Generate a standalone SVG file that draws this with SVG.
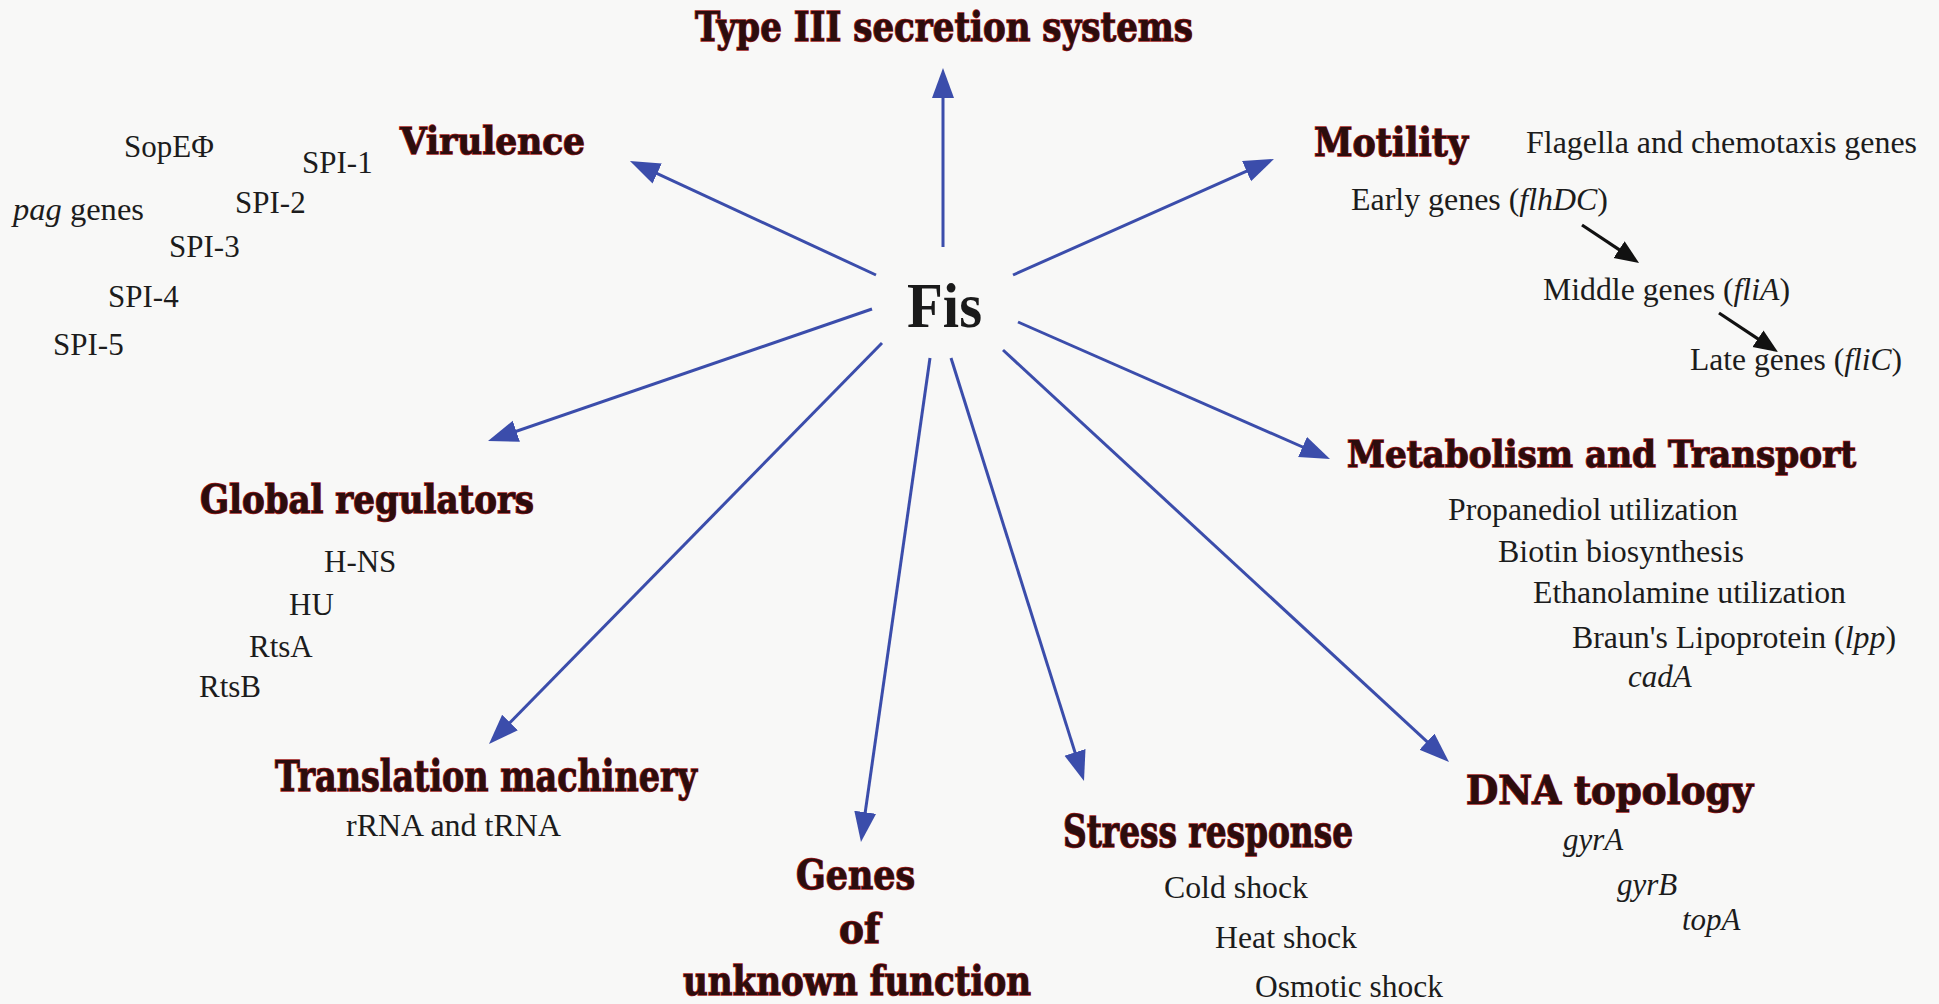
<svg xmlns="http://www.w3.org/2000/svg" width="1939" height="1004" viewBox="0 0 1939 1004">
<style>
.bg{fill:#f8f8f7}
.t{font-family:"DejaVu Serif","Liberation Serif",serif;font-weight:bold;fill:#2b0d0d;stroke:#a51c1c;stroke-width:1.5;paint-order:stroke}
.s{font-family:"Liberation Serif","Times New Roman",serif;font-size:31px;fill:#1c1c1c}
.i{font-style:italic}
.fis{font-family:"Liberation Serif","Times New Roman",serif;font-weight:bold;font-size:63px;fill:#1a1a1a}
.c line{stroke:#3b4dab;stroke-width:3;fill:none}
.c line.k{stroke:#111;stroke-width:3.2}
</style>
<defs>
<marker id="ab" markerUnits="userSpaceOnUse" markerWidth="32" markerHeight="24" refX="10" refY="11" orient="auto">
<path d="M0,0 L30,11 L0,22 Z" fill="#3b4dab"/>
</marker>
<marker id="ak" markerUnits="userSpaceOnUse" markerWidth="26" markerHeight="22" refX="10" refY="10" orient="auto">
<path d="M0,0 L24,10 L0,20 Z" fill="#111"/>
</marker>
</defs>
<rect class="bg" x="0" y="0" width="1939" height="1004"/>

<g id="connectors" class="c">
<line x1="943" y1="247" x2="943" y2="88" marker-end="url(#ab)"/>
<line x1="876" y1="275" x2="648.1" y2="169.4" marker-end="url(#ab)"/>
<line x1="1013" y1="275" x2="1255.7" y2="167.1" marker-end="url(#ab)"/>
<line x1="872" y1="309" x2="506.9" y2="434.5" marker-end="url(#ab)"/>
<line x1="1018" y1="322" x2="1311.7" y2="451" marker-end="url(#ab)"/>
<line x1="882" y1="343" x2="503" y2="729.7" marker-end="url(#ab)"/>
<line x1="930" y1="358" x2="863.8" y2="822.2" marker-end="url(#ab)"/>
<line x1="951" y1="358" x2="1078" y2="761.9" marker-end="url(#ab)"/>
<line x1="1003" y1="350" x2="1434.3" y2="748.4" marker-end="url(#ab)"/>
<line class="k" x1="1582" y1="225" x2="1627.4" y2="255.2" marker-end="url(#ak)"/>
<line class="k" x1="1719" y1="313" x2="1766.3" y2="344.3" marker-end="url(#ak)"/>
</g>

<g id="fis">
<text class="fis" x="907" y="327" textLength="75" lengthAdjust="spacingAndGlyphs">Fis</text>
</g>

<g id="type3">
<text class="t" x="695" y="41" font-size="41" textLength="498" lengthAdjust="spacingAndGlyphs">Type III secretion systems</text>
</g>

<g id="virulence">
<text class="t" x="400" y="154" font-size="38" textLength="185" lengthAdjust="spacingAndGlyphs">Virulence</text>
<text class="s" x="124" y="157">SopEΦ</text>
<text class="s" x="302" y="173">SPI-1</text>
<text class="s" x="235" y="213">SPI-2</text>
<text class="s" x="13" y="220" textLength="131" lengthAdjust="spacingAndGlyphs"><tspan class="i">pag</tspan> genes</text>
<text class="s" x="169" y="257">SPI-3</text>
<text class="s" x="108" y="307">SPI-4</text>
<text class="s" x="53" y="355">SPI-5</text>
</g>

<g id="motility">
<text class="t" x="1314" y="156" font-size="40" textLength="154" lengthAdjust="spacingAndGlyphs">Motility</text>
<text class="s" x="1526" y="153" textLength="391" lengthAdjust="spacingAndGlyphs">Flagella and chemotaxis genes</text>
<text class="s" x="1351" y="210" textLength="257" lengthAdjust="spacingAndGlyphs">Early genes (<tspan class="i">flhDC</tspan>)</text>
<text class="s" x="1543" y="300" textLength="247" lengthAdjust="spacingAndGlyphs">Middle genes (<tspan class="i">fliA</tspan>)</text>
<text class="s" x="1690" y="370" textLength="212" lengthAdjust="spacingAndGlyphs">Late genes (<tspan class="i">fliC</tspan>)</text>
</g>

<g id="global-regulators">
<text class="t" x="200" y="513" font-size="39" textLength="334" lengthAdjust="spacingAndGlyphs">Global regulators</text>
<text class="s" x="324" y="572">H-NS</text>
<text class="s" x="289" y="615">HU</text>
<text class="s" x="249" y="657">RtsA</text>
<text class="s" x="199" y="697">RtsB</text>
</g>

<g id="metabolism">
<text class="t" x="1347" y="467" font-size="37" textLength="509" lengthAdjust="spacingAndGlyphs">Metabolism and Transport</text>
<text class="s" x="1448" y="520" textLength="290" lengthAdjust="spacingAndGlyphs">Propanediol utilization</text>
<text class="s" x="1498" y="562" textLength="246" lengthAdjust="spacingAndGlyphs">Biotin biosynthesis</text>
<text class="s" x="1533" y="603" textLength="313" lengthAdjust="spacingAndGlyphs">Ethanolamine utilization</text>
<text class="s" x="1572" y="648" textLength="324" lengthAdjust="spacingAndGlyphs">Braun's Lipoprotein (<tspan class="i">lpp</tspan>)</text>
<text class="s i" x="1628" y="687">cadA</text>
</g>

<g id="translation">
<text class="t" x="275" y="791" font-size="43" textLength="422" lengthAdjust="spacingAndGlyphs">Translation machinery</text>
<text class="s" x="346" y="836" textLength="215" lengthAdjust="spacingAndGlyphs">rRNA and tRNA</text>
</g>

<g id="unknown">
<text class="t" x="796" y="889" font-size="41" textLength="119" lengthAdjust="spacingAndGlyphs">Genes</text>
<text class="t" x="839" y="943" font-size="41" textLength="41" lengthAdjust="spacingAndGlyphs">of</text>
<text class="t" x="683" y="995" font-size="41" textLength="348" lengthAdjust="spacingAndGlyphs">unknown function</text>
</g>

<g id="stress">
<text class="t" x="1063" y="847" font-size="44" textLength="290" lengthAdjust="spacingAndGlyphs">Stress response</text>
<text class="s" x="1164" y="898" textLength="144" lengthAdjust="spacingAndGlyphs">Cold shock</text>
<text class="s" x="1215" y="948" textLength="142" lengthAdjust="spacingAndGlyphs">Heat shock</text>
<text class="s" x="1255" y="997" textLength="188" lengthAdjust="spacingAndGlyphs">Osmotic shock</text>
</g>

<g id="dna-topology">
<text class="t" x="1466" y="804" font-size="40" textLength="287" lengthAdjust="spacingAndGlyphs">DNA topology</text>
<text class="s i" x="1563" y="850">gyrA</text>
<text class="s i" x="1617" y="895">gyrB</text>
<text class="s i" x="1682" y="930">topA</text>
</g>
</svg>
